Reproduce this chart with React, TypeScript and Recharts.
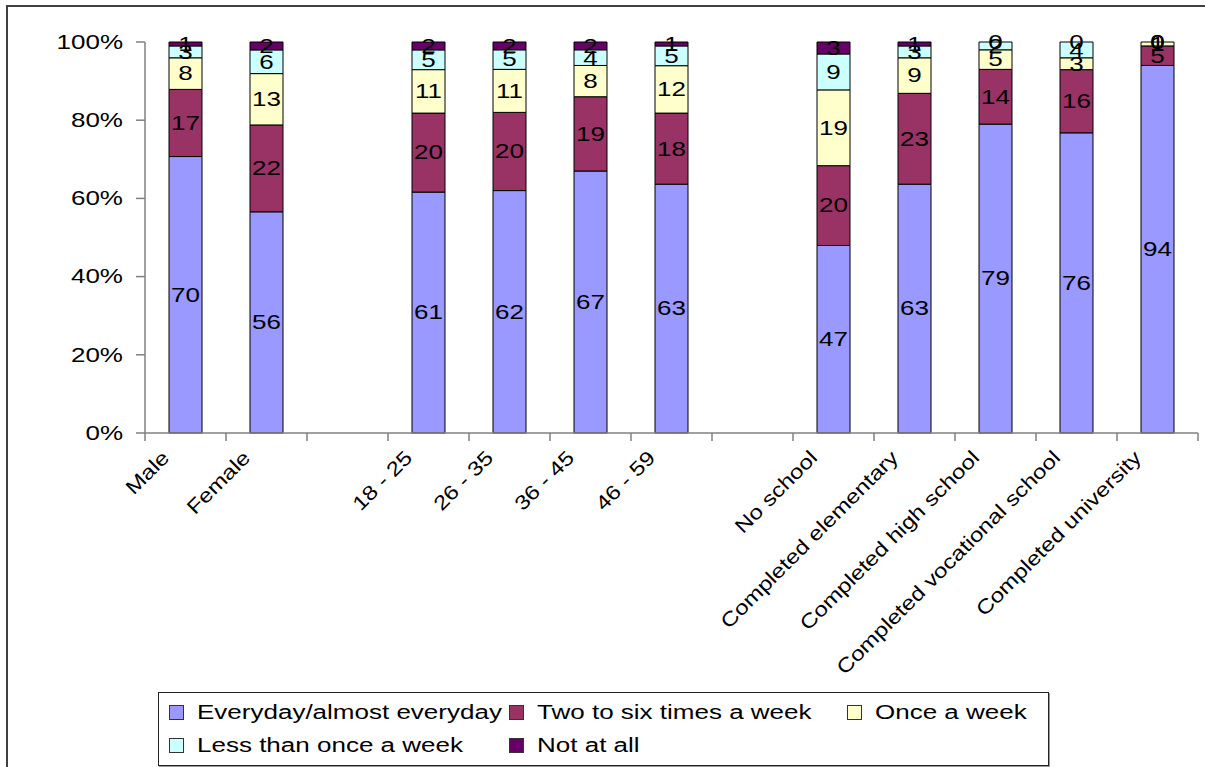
import React from 'react';
import { BarChart, Bar, XAxis, YAxis, LabelList } from 'recharts';

const categories = [
  'Male', 'Female', ' ', '18 - 25', '26 - 35', '36 - 45', '46 - 59', '  ',
  'No school', 'Completed elementary', 'Completed high school',
  'Completed vocational school', 'Completed university',
];

const everyday = [70, 56, null, 61, 62, 67, 63, null, 47, 63, 79, 76, 94];
const twoToSix = [17, 22, null, 20, 20, 19, 18, null, 20, 23, 14, 16, 5];
const onceWeek = [8, 13, null, 11, 11, 8, 12, null, 19, 9, 5, 3, 1];
const lessThan = [3, 6, null, 5, 5, 4, 5, null, 9, 3, 2, 4, 0];
const notAtAll = [1, 2, null, 2, 2, 2, 1, null, 3, 1, 0, 0, 0];

const yTicks = [0, 0.2, 0.4, 0.6, 0.8, 1];

const seriesDefs = [
  { key: 'everyday', name: 'Everyday/almost everyday', color: '#9999FF', values: everyday },
  { key: 'twoToSix', name: 'Two to six times a week', color: '#993366', values: twoToSix },
  { key: 'onceWeek', name: 'Once a week', color: '#FFFFCC', values: onceWeek },
  { key: 'lessThan', name: 'Less than once a week', color: '#CCFFFF', values: lessThan },
  { key: 'notAtAll', name: 'Not at all', color: '#660066', values: notAtAll },
];

const data = categories.map((name, i) => {
  const row: Record<string, string | number | null> = { name };
  seriesDefs.forEach((s) => {
    row[s.key] = s.values[i];
  });
  return row;
});

const FONT = '"Liberation Sans", Arial, sans-serif';
const AXIS = '#808080';
const STRETCH = 1.3; // the source text is drawn wide
const TICK_STRETCH = 1.2;

const W = 1205;
const H = 767;
const PLOT_LEFT = 145;
const PLOT_RIGHT = 1198;
const PLOT_TOP = 42;
const PLOT_BOTTOM = 433;
const BAND = (PLOT_RIGHT - PLOT_LEFT) / categories.length;

// excel style: tick marks sit between categories, labels rotated 45deg
const CategoryTick = (props: any) => {
  const { x, y, payload, index } = props;
  const left = x - BAND / 2;
  const label = String(payload.value).trim();
  const ax = x - 15;
  const ay = y + 18;
  return (
    <g>
      <line x1={left} y1={PLOT_BOTTOM} x2={left} y2={PLOT_BOTTOM + 8} stroke={AXIS} strokeWidth={1.5} />
      {index === categories.length - 1 && (
        <line x1={left + BAND} y1={PLOT_BOTTOM} x2={left + BAND} y2={PLOT_BOTTOM + 8} stroke={AXIS} strokeWidth={1.5} />
      )}
      {label && (
        <g transform={`translate(${ax} ${ay}) rotate(-45) scale(${TICK_STRETCH} 1)`}>
          <text x={0} y={0} textAnchor="end" fontSize={20} fontFamily={FONT} fill="#000">
            {label}
          </text>
        </g>
      )}
    </g>
  );
};

const PercentTick = (props: any) => {
  const { x, y, payload } = props;
  return (
    <g transform={`translate(${x} ${y}) scale(${STRETCH} 1)`}>
      <text x={0} y={0} textAnchor="end" dominantBaseline="central" fontSize={20} fontFamily={FONT} fill="#000">
        {`${Math.round(payload.value * 100)}%`}
      </text>
    </g>
  );
};

// zero-height segments get no label entry, so all five labels of a column
// are placed from the bottom segment's rectangle
const filledRows = data.filter((r) => r.everyday != null);

const StackLabels = (props: any) => {
  const { x, y, width, height, index } = props;
  const row = filledRows[index];
  if (!row) return null;
  const vals = seriesDefs.map((s) => Number(row[s.key] ?? 0));
  const total = vals.reduce((a, b) => a + b, 0);
  const bottom = y + height;
  const full = (height * total) / vals[0];
  const cx = x + width / 2;
  let acc = 0;
  return (
    <g>
      {vals.map((v, k) => {
        const cy = bottom - (full * (acc + v / 2)) / total;
        acc += v;
        return (
          <g key={k} transform={`translate(${cx} ${cy}) scale(${STRETCH} 1)`}>
            <text x={0} y={0} textAnchor="middle" dominantBaseline="central" fontSize={20} fontFamily={FONT} fill="#000">
              {v}
            </text>
          </g>
        );
      })}
    </g>
  );
};

const legendPos = [
  { left: 10, top: 6 },
  { left: 350, top: 6 },
  { left: 688, top: 6 },
  { left: 10, top: 39 },
  { left: 350, top: 39 },
];

export default function App() {
  return (
    <div style={{ position: 'absolute', left: 0, top: 0, width: W, height: H, overflow: 'hidden', background: '#fff' }}>
      <div
        style={{
          position: 'absolute',
          left: 6,
          top: 5,
          width: W + 20,
          height: H + 20,
          border: '2px solid #404040',
        }}
      />
      <div style={{ position: 'absolute', left: 0, top: 0 }}>
        <BarChart
          width={W}
          height={H}
          data={data}
          stackOffset="expand"
          barSize={33}
          margin={{ top: PLOT_TOP, right: W - PLOT_RIGHT, left: PLOT_LEFT - 70, bottom: 0 }}
        >
          <XAxis
            dataKey="name"
            height={H - PLOT_BOTTOM}
            interval={0}
            axisLine={{ stroke: AXIS, strokeWidth: 1.5 }}
            tickLine={false}
            tick={(p: any) => <CategoryTick {...p} />}
          />
          <YAxis
            width={70}
            domain={[0, 1]}
            ticks={yTicks}
            axisLine={{ stroke: AXIS, strokeWidth: 1.5 }}
            tickLine={{ stroke: AXIS, strokeWidth: 1.5 }}
            tickSize={9}
            tickMargin={13}
            tick={(p: any) => <PercentTick {...p} />}
          />
          {seriesDefs.map((s, i) => (
            <Bar
              key={s.key}
              dataKey={s.key}
              name={s.name}
              stackId="a"
              fill={s.color}
              stroke="#000"
              strokeWidth={1}
              isAnimationActive={false}
            >
              {i === 0 && <LabelList dataKey={s.key} content={StackLabels} />}
            </Bar>
          ))}
        </BarChart>
      </div>
      <div
        style={{
          position: 'absolute',
          left: 158,
          top: 692,
          width: 889,
          height: 72,
          border: '1px solid #222',
          boxShadow: '1px 1px 0 #999',
          fontFamily: FONT,
          fontSize: 20,
          background: '#fff',
        }}
      >
        {seriesDefs.map((s, i) => (
          <div
            key={s.key}
            style={{
              position: 'absolute',
              left: legendPos[i].left,
              top: legendPos[i].top,
              display: 'flex',
              alignItems: 'center',
              whiteSpace: 'nowrap',
              lineHeight: '26px',
            }}
          >
            <span
              style={{
                display: 'inline-block',
                width: 13,
                height: 13,
                background: s.color,
                border: '1px solid #333',
                marginRight: 13,
              }}
            />
            <span style={{ display: 'inline-block', transform: `scaleX(${STRETCH})`, transformOrigin: 'left center' }}>
              {s.name}
            </span>
          </div>
        ))}
      </div>
    </div>
  );
}
